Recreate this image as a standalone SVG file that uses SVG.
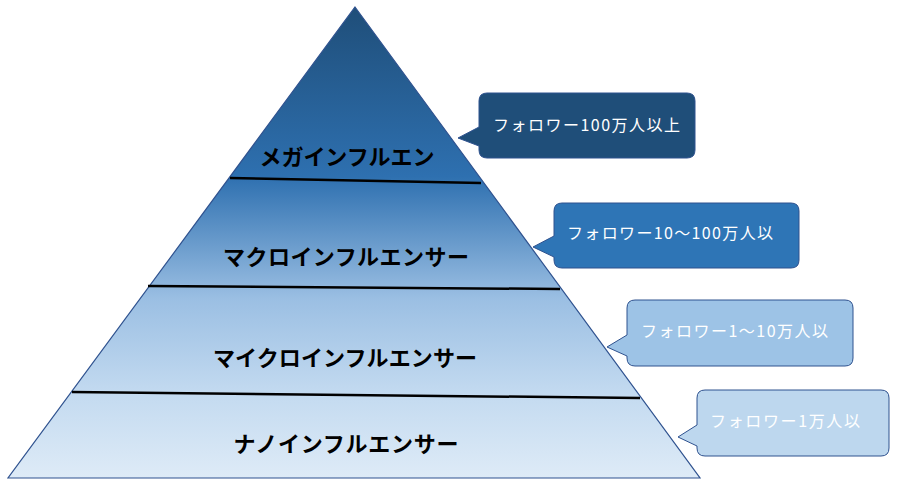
<svg xmlns="http://www.w3.org/2000/svg" width="912" height="489" viewBox="0 0 912 489">
<defs>
<linearGradient id="pg" x1="0" y1="7" x2="0" y2="478" gradientUnits="userSpaceOnUse">
<stop offset="0" stop-color="#1f4e79"/>
<stop offset="0.36" stop-color="#2e70b0"/>
<stop offset="0.62" stop-color="#9bbfe3"/>
<stop offset="0.82" stop-color="#c3daf0"/>
<stop offset="1" stop-color="#deebf7"/>
</linearGradient>
</defs>
<style>
.lbl{font-family:"Noto Sans CJK JP","Noto Sans",sans-serif;font-weight:bold;font-size:22px;fill:#000;text-anchor:middle}
.ct{font-family:"Noto Sans CJK JP","Noto Sans",sans-serif;font-size:16px;fill:#ffffff}
.div{stroke:#000;stroke-width:2.5;fill:none}
.co{stroke:#2f528f;stroke-width:1}
</style>
<rect width="912" height="489" fill="#ffffff"/>
<g id="pyramid">
<polygon points="355,7 700,478 8,478" fill="url(#pg)" stroke="#2f528f" stroke-width="1.2"/>
</g>
<g id="connectors">
<line class="div" x1="230" y1="178" x2="481" y2="183"/>
<line class="div" x1="148" y1="286" x2="560" y2="289"/>
<line class="div" x1="72" y1="392" x2="640" y2="398"/>
</g>
<g id="layer-mega"><text class="lbl" x="347" y="165" textLength="175" lengthAdjust="spacing">メガインフルエン</text></g>
<g id="layer-macro"><text class="lbl" x="346" y="265" textLength="246" lengthAdjust="spacing">マクロインフルエンサー</text></g>
<g id="layer-micro"><text class="lbl" x="345" y="366" textLength="264" lengthAdjust="spacing">マイクロインフルエンサー</text></g>
<g id="layer-nano"><text class="lbl" x="346" y="452" textLength="225" lengthAdjust="spacing">ナノインフルエンサー</text></g>
<g id="callout-1">
<path class="co" fill="#1f4e79" d="M487,93 H687 Q695,93 695,101 V150 Q695,158 687,158 H487 Q479,158 479,150 V146 L458,138 L479,127 V101 Q479,93 487,93 Z"/>
<text class="ct" x="493" y="131" textLength="187" lengthAdjust="spacing">フォロワー100万人以上</text>
</g>
<g id="callout-2">
<path class="co" fill="#2e75b6" d="M562,203 H791 Q799,203 799,211 V260 Q799,268 791,268 H562 Q554,268 554,260 V257 L533,247 L554,236 V211 Q554,203 562,203 Z"/>
<text class="ct" x="567" y="239" textLength="206" lengthAdjust="spacing">フォロワー10〜100万人以</text>
</g>
<g id="callout-3">
<path class="co" fill="#9dc3e6" d="M635,300 H845 Q853,300 853,308 V358 Q853,366 845,366 H635 Q627,366 627,358 V356 L607,347 L627,335 V308 Q627,300 635,300 Z"/>
<text class="ct" x="641" y="337" textLength="187" lengthAdjust="spacing">フォロワー1〜10万人以</text>
</g>
<g id="callout-4">
<path class="co" fill="#bdd7ee" d="M705,390 H881 Q889,390 889,398 V448 Q889,456 881,456 H705 Q697,456 697,448 V446 L678,437 L697,425 V398 Q697,390 705,390 Z"/>
<text class="ct" x="710" y="427" textLength="150" lengthAdjust="spacing">フォロワー1万人以</text>
</g>
</svg>
